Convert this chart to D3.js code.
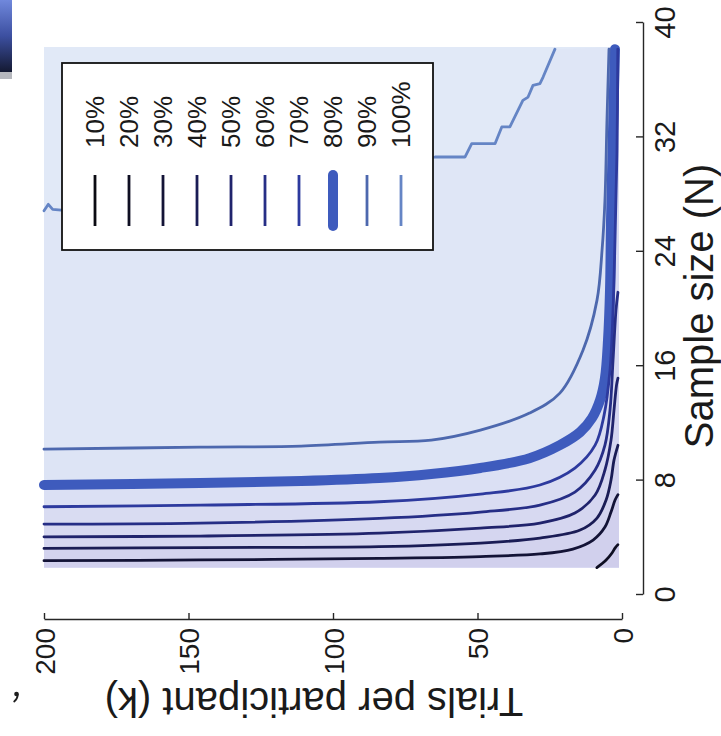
<!DOCTYPE html>
<html>
<head>
<meta charset="utf-8">
<script src="https://cdn.jsdelivr.net/npm/d3@7"></script>
<style>
  html, body { margin: 0; padding: 0; background: #ffffff; }
  svg { display: block; font-family: "Liberation Sans", Arial, Helvetica, sans-serif; }
</style>
</head>
<body>
<svg id="chart" width="721" height="736"></svg>
<script>
// Statistical power contours: sample size N needed as a function of trials per participant k.
const powerLevels = ["10%", "20%", "30%", "40%", "50%", "60%", "70%", "80%", "90%", "100%"];
const nTicks = [0, 8, 16, 24, 32, 40];
const kTicks = [200, 150, 100, 50, 0];

// Simulated grid extent
const kRange = [1, 200];
const nRange = [1.85, 38.25];

// Contour vertices as [k, N], ordered from many trials to few trials
const contour10 = []; // lies below the smallest simulated sample size
const contour20 = [[8.7, 1.85], [5.5, 2.38], [3.46, 2.87], [2.42, 3.21], [1.4, 3.45]];
const contour30 = [[200, 2.33], [146, 2.38], [84, 2.49], [49, 2.62], [28.4, 2.80], [17, 3.14],
                   [10, 3.77], [5.9, 4.68], [3.8, 5.73], [2.4, 6.57], [1.4, 6.95]];
const contour40 = [[200, 3.19], [146, 3.25], [84, 3.31], [49, 3.56], [28.4, 3.91], [14.5, 4.47],
                   [8.65, 5.31], [5.5, 6.57], [3.8, 7.97], [2.77, 9.36], [1.4, 10.4]];
const contour50 = [[200, 4.00], [146, 4.05], [84, 4.26], [49, 4.61], [28.4, 4.96], [16.3, 5.66],
                   [9.3, 6.92], [5.9, 8.67], [3.8, 10.76], [2.77, 12.86], [1.9, 14.6], [1.4, 15.1]];
const contour60 = [[200, 4.89], [146, 4.96], [84, 5.29], [49, 5.73], [28.4, 6.22], [16.3, 7.13],
                   [9.3, 8.67], [5.9, 10.41], [4.15, 12.86], [3.1, 16.35], [2.08, 19.85], [1.4, 21.1]];
const contour70 = [[200, 6.10], [146, 6.22], [84, 6.45], [49, 6.99], [28.4, 7.62], [16.3, 8.81],
                   [9.3, 10.41], [6.2, 12.51], [4.15, 15.65], [3.1, 19.85], [2.42, 24.74],
                   [1.73, 31.03], [1.45, 38.1]];
const contour80 = [[200, 7.62], [146, 7.76], [111, 7.90], [84, 8.11], [66, 8.39], [49, 8.81],
                   [32, 9.50], [21.5, 10.41], [14.5, 11.32], [10.4, 12.30], [7.6, 13.56],
                   [5.9, 15.09], [4.84, 17.75], [4.15, 21.24], [3.8, 26.14], [3.1, 32.43], [2.42, 38.1]];
const contour90 = [[200, 10.13], [146, 10.27], [111, 10.34], [84, 10.62], [66, 10.76], [49, 11.46],
                   [32, 12.65], [21.5, 14.05], [13.5, 17.05], [8.65, 20.55], [6.9, 24.04],
                   [5.9, 27.53], [5.2, 33.12], [4.5, 38.1]];
const contour100 = [[200, 26.8], [198.5, 27.25], [197, 26.9], [194, 26.85], [180, 27.0], [160, 27.5],
                    [140, 28.0], [120, 28.6], [100, 29.2], [80, 29.9], [66, 30.5], [64.7, 30.56],
                    [54.3, 30.56], [52, 31.5], [43.9, 31.5], [41.6, 32.66], [38.8, 32.66],
                    [34.3, 34.52], [32.5, 34.75], [30.8, 35.57], [28.4, 35.69], [27.3, 36.15],
                    [23.2, 38.1]];

const contours = [contour10, contour20, contour30, contour40, contour50,
                  contour60, contour70, contour80, contour90, contour100];

// Styling
const lineColors = ["#0b0b12", "#0e0e22", "#131336", "#1a1c55", "#20236c",
                    "#262e86", "#2d3a9e", "#3e5bbd", "#4d68ae", "#6585c5"];
const bandFills = ["#cdcaea", "#cfcdeb", "#d1d0ed", "#d3d3ee", "#d5d6f0",
                   "#d7d9f1", "#d9dcf2", "#dbe0f4", "#dde4f5", "#dfe6f6"];
const topFill = "#e1e9f7";
const highlightLevel = 7; // the 80% contour is emphasised

const svg = d3.select("#chart");
const defs = svg.append("defs");

// Scales: k runs right-to-left along the bottom, N bottom-to-top along the right
const kScale = d3.scaleLinear().domain([0, 200]).range([622, 44]);
const nScale = d3.scaleLinear().domain([0, 40]).range([594, 22]);

// Slide tab in the corner and a stray mark at the lower left
const grad = defs.append("linearGradient").attr("id", "tabGrad")
  .attr("x1", 0).attr("y1", 0).attr("x2", 0).attr("y2", 1);
grad.append("stop").attr("offset", "0%").attr("stop-color", "#7088dc");
grad.append("stop").attr("offset", "50%").attr("stop-color", "#3c4fa0");
grad.append("stop").attr("offset", "100%").attr("stop-color", "#141932");
svg.append("rect").attr("x", 0).attr("y", 0).attr("width", 12).attr("height", 72).attr("fill", "url(#tabGrad)");
svg.append("rect").attr("x", 0).attr("y", 72).attr("width", 12).attr("height", 7).attr("fill", "#b6b8be");
svg.append("circle").attr("cx", 16.5).attr("cy", 694).attr("r", 2.3).attr("fill", "#1e1e1e");
svg.append("path").attr("d", "M17.8,694.5 Q17.5,699 14.2,701.5").attr("fill", "none")
  .attr("stroke", "#1e1e1e").attr("stroke-width", 1.8).attr("stroke-linecap", "round");

// Plot region clip
const px0 = kScale(kRange[1]), px1 = kScale(kRange[0]);
const py0 = nScale(nRange[1]), py1 = nScale(nRange[0]);
defs.append("clipPath").attr("id", "plotClip").append("rect")
  .attr("x", px0).attr("y", py0).attr("width", px1 - px0).attr("height", py1 - py0);

const plot = svg.append("g").attr("clip-path", "url(#plotClip)");
plot.append("rect").attr("x", px0).attr("y", py0).attr("width", px1 - px0).attr("height", py1 - py0)
  .attr("fill", topFill);

// Filled bands: region below each contour (lower power) gets a deeper tint
const polyLine = d3.line().x(d => kScale(d[0])).y(d => nScale(d[1]));
function bandPolygon(pts) {
  const first = pts[0], last = pts[pts.length - 1];
  const endN = last[1] >= 38 ? nRange[1] : last[1];
  return pts.concat([[kRange[0], endN], [kRange[0], nRange[0]], [first[0], nRange[0]]]);
}
for (let i = contours.length - 1; i >= 0; i--) {
  if (!contours[i].length) continue;
  plot.append("path")
    .attr("d", polyLine(bandPolygon(contours[i])) + "Z")
    .attr("fill", bandFills[i]);
}

// Contour lines
const smoothLine = d3.line().x(d => kScale(d[0])).y(d => nScale(d[1]))
  .curve(d3.curveCatmullRom.alpha(0.5));
const jaggedLine = d3.line().x(d => kScale(d[0])).y(d => nScale(d[1]));
const lineLayer = svg.append("g").attr("fill", "none").attr("stroke-linejoin", "round");
const drawOrder = [9, 7, 8, 6, 5, 4, 3, 2, 1, 0];
drawOrder.forEach(i => {
  if (!contours[i].length) return;
  lineLayer.append("path")
    .attr("d", (i === 9 ? jaggedLine : smoothLine)(contours[i]))
    .attr("stroke", lineColors[i])
    .attr("stroke-width", i === highlightLevel ? 10 : 2.8)
    .attr("stroke-linecap", "round");
});

// Right axis: sample size
const nAxis = svg.append("g").attr("transform", "translate(643,0)")
  .call(d3.axisRight(nScale).tickValues(nTicks).tickSizeInner(-7).tickSizeOuter(0).tickFormat(d3.format("d")));
nAxis.select(".domain").attr("stroke", "#262626").attr("stroke-width", 1.4);
nAxis.selectAll(".tick line").attr("stroke", "#262626").attr("stroke-width", 1.4);
nAxis.selectAll(".tick text")
  .attr("x", null).attr("dy", null)
  .attr("transform", "translate(32,0) rotate(-90)")
  .attr("text-anchor", "middle")
  .attr("fill", "#1a1a1a")
  .style("font-size", "29px");

// Bottom axis: trials per participant
const kAxis = svg.append("g").attr("transform", "translate(0,619)")
  .call(d3.axisBottom(kScale).tickValues(kTicks).tickSizeInner(-6).tickSizeOuter(0).tickFormat(d3.format("d")));
kAxis.select(".domain").attr("stroke", "#262626").attr("stroke-width", 1.4);
kAxis.selectAll(".tick line").attr("stroke", "#262626").attr("stroke-width", 1.4);
kAxis.selectAll(".tick text")
  .attr("y", null).attr("dy", null)
  .attr("transform", "translate(10,9) rotate(-90)")
  .attr("text-anchor", "end")
  .attr("fill", "#1a1a1a")
  .style("font-size", "28px");

// Axis titles
svg.append("text")
  .attr("transform", "translate(713,306) rotate(-90)")
  .attr("text-anchor", "middle")
  .attr("fill", "#1a1a1a")
  .style("font-size", "40px")
  .text("Sample size (N)");
svg.append("text")
  .attr("transform", "translate(314,688) rotate(180)")
  .attr("text-anchor", "middle")
  .attr("fill", "#1a1a1a")
  .style("font-size", "40px")
  .text("Trials per participant (k)");

// Legend
const legend = svg.append("g");
legend.append("rect").attr("x", 62).attr("y", 63).attr("width", 371).attr("height", 187)
  .attr("fill", "#ffffff").attr("stroke", "#111").attr("stroke-width", 1.8);
powerLevels.forEach((lab, i) => {
  const cx = 95 + 34 * i;
  legend.append("text")
    .attr("transform", `translate(${cx + 9},148) rotate(-90)`)
    .attr("text-anchor", "start")
    .attr("fill", "#1a1a1a")
    .style("font-size", "26px")
    .text(lab);
  legend.append("line")
    .attr("x1", cx).attr("x2", cx).attr("y1", 175).attr("y2", 226)
    .attr("stroke", lineColors[i])
    .attr("stroke-width", i === highlightLevel ? 10 : 2.8)
    .attr("stroke-linecap", i === highlightLevel ? "round" : "butt");
});
</script>
</body>
</html>
